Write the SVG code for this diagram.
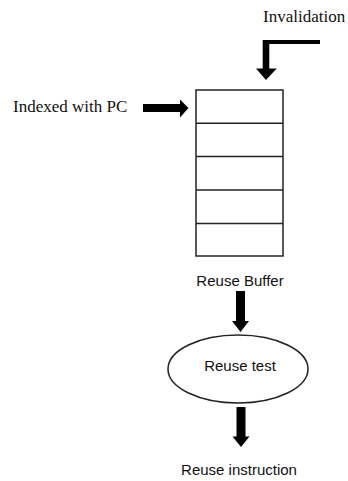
<svg xmlns="http://www.w3.org/2000/svg" width="348" height="481" viewBox="0 0 348 481">
  <style>
    .serif { font-family: "Liberation Serif", "Times New Roman", serif; font-size: 17px; fill: #111; }
    .sans { font-family: "Liberation Sans", Arial, sans-serif; font-size: 15px; fill: #111; }
    .box { fill: #fff; stroke: #222; stroke-width: 1.5; }
    .row { stroke: #222; stroke-width: 1.5; }
    .arrow { fill: #000; }
  </style>
  <rect width="348" height="481" fill="#fff"/>

  <!-- Labels -->
  <g id="invalidation-label">
    <text class="serif" x="263" y="22">Invalidation</text>
  </g>
  <g id="indexed-label">
    <text class="serif" x="13" y="112">Indexed with PC</text>
  </g>

  <!-- Reuse buffer table -->
  <g id="reuse-buffer">
    <rect class="box" x="196" y="90" width="87" height="166"/>
    <line class="row" x1="196" y1="123.3" x2="283" y2="123.3"/>
    <line class="row" x1="196" y1="156.5" x2="283" y2="156.5"/>
    <line class="row" x1="196" y1="190" x2="283" y2="190"/>
    <line class="row" x1="196" y1="223.5" x2="283" y2="223.5"/>
    <text class="sans" x="240" y="286" text-anchor="middle">Reuse Buffer</text>
  </g>

  <!-- Reuse test -->
  <g id="reuse-test">
    <ellipse class="box" cx="238" cy="369" rx="70" ry="34"/>
    <text class="sans" x="240" y="371" text-anchor="middle">Reuse test</text>
  </g>

  <!-- Result -->
  <g id="reuse-instruction">
    <text class="sans" x="239" y="475" text-anchor="middle">Reuse instruction</text>
  </g>

  <!-- Connectors -->
  <g id="connectors">
    <!-- Invalidation: elbow arrow down into the buffer -->
    <path class="arrow" d="M320 40 L262.7 40 L262.7 68.5 L256 68.5 L266 80 L276.7 68.5 L269.3 68.5 L269.3 44 L320 44 Z"/>
    <!-- Indexed with PC: arrow right into the buffer -->
    <path class="arrow" d="M143 104 L180 104 L180 99.5 L188.5 108 L180 117.5 L180 112 L143 112 Z"/>
    <!-- Buffer to reuse test -->
    <path class="arrow" d="M236 291 L245 291 L245 321 L249 321 L240.5 332 L232 321 L236 321 Z"/>
    <!-- Reuse test to result -->
    <path class="arrow" d="M236.5 407 L245.5 407 L245.5 436.5 L249.5 436.5 L241 447 L232.5 436.5 L236.5 436.5 Z"/>
  </g>
</svg>
